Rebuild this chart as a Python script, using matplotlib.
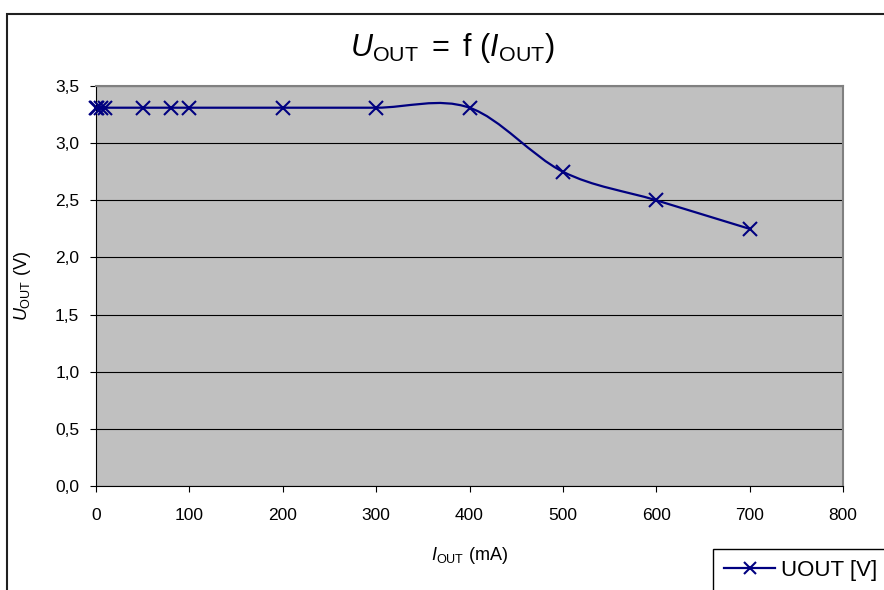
import numpy as np
import matplotlib
matplotlib.use("Agg")
import matplotlib.pyplot as plt
from matplotlib.path import Path
from matplotlib.patches import PathPatch, Rectangle
from matplotlib.lines import Line2D
from matplotlib.ticker import FuncFormatter, MultipleLocator

plt.rcParams['font.family'] = ['Liberation Sans', 'DejaVu Sans']
plt.rcParams['mathtext.fontset'] = 'custom'
plt.rcParams['mathtext.rm'] = 'Liberation Sans'
plt.rcParams['mathtext.it'] = 'Liberation Sans:italic'

# Messwerte: Ausgangsstrom in mA, Ausgangsspannung in V
i_out = [0, 1, 5, 10, 50, 80, 100, 200, 300, 400, 500, 600, 700]
u_out = [3.31, 3.31, 3.31, 3.31, 3.31, 3.31, 3.31, 3.31, 3.31, 3.31, 2.75, 2.50, 2.25]
series_label = 'UOUT [V]'

line_color = '#000080'


# geglättete Linie wie in Excel (Bezier-Segmente, Catmull-Rom mit 1/6)
def smooth_path(x, y):
    p = np.column_stack([x, y]).astype(float)
    n = len(p)
    verts = [p[0]]
    codes = [Path.MOVETO]
    for k in range(n - 1):
        p_prev = p[max(k - 1, 0)]
        p_next = p[min(k + 2, n - 1)]
        c1 = p[k] + (p[k + 1] - p_prev) / 6
        c2 = p[k + 1] - (p_next - p[k]) / 6
        verts += [c1, c2, p[k + 1]]
        codes += [Path.CURVE4] * 3
    return Path(verts, codes)


fig = plt.figure(figsize=(8.84, 5.90), dpi=100)
ax = fig.add_axes([96/884, 1 - 486/590, 747/884, 400/590])
ax.set_facecolor('#C0C0C0')

ax.add_patch(PathPatch(smooth_path(i_out, u_out), fill=False,
                       edgecolor=line_color, lw=1.6, zorder=3))
ax.plot(i_out, u_out, ls='none', marker='x', ms=10, mew=1.5,
        color=line_color, zorder=4, clip_on=False)

ax.set_xlim(0, 800)
ax.set_ylim(0, 3.5)
ax.xaxis.set_major_locator(MultipleLocator(100))
ax.yaxis.set_major_locator(MultipleLocator(0.5))
ax.yaxis.set_major_formatter(FuncFormatter(lambda v, pos: f'{v:.1f}'.replace('.', ',')))
ax.grid(axis='y', color='black', lw=0.8)
ax.set_axisbelow(True)

ax.tick_params(axis='both', direction='out', length=4, width=0.8,
               labelsize=12.5, color='black')
ax.tick_params(axis='x', pad=12)
ax.tick_params(axis='y', pad=8)

for s in ['left', 'bottom']:
    ax.spines[s].set_color('black')
    ax.spines[s].set_linewidth(0.8)
for s in ['top', 'right']:
    ax.spines[s].set_color('#808080')
    ax.spines[s].set_linewidth(1.5)

ax.set_xlabel(r'$I_{\mathrm{OUT}}\ \mathrm{(mA)}$', fontsize=13)
ax.xaxis.set_label_coords(0.5, -0.148)
ax.set_ylabel(r'$U_{\mathrm{OUT}}\ \mathrm{(V)}$', fontsize=13)
ax.yaxis.set_label_coords(-0.084, 0.5)

fig.text(452/884, 1 - 48/590,
         r'$U_{\mathrm{OUT}}\mathrm{\ =\ f\ (}I_{\mathrm{OUT}}\mathrm{)}$',
         fontsize=22, ha='center', va='center')

# Rahmen des Diagrammbereichs
fig.patches.append(Rectangle((7/884, -0.2), 1.2, 1.2 - 14/590,
                             transform=fig.transFigure, fill=False,
                             edgecolor='#202020', lw=1.5))

handle = Line2D([], [], color=line_color, lw=1.6, marker='x', ms=9, mew=1.5)
leg = fig.legend([handle], [series_label], loc='upper left',
                 bbox_to_anchor=(713/884, 1 - 549/590), borderaxespad=0,
                 fontsize=16, frameon=True, fancybox=False, shadow=False,
                 edgecolor='black', framealpha=1, borderpad=0.5,
                 handlelength=2.3, handletextpad=0.25)
leg.get_frame().set_linewidth(1.0)

fig.savefig('out.png', dpi=100)
